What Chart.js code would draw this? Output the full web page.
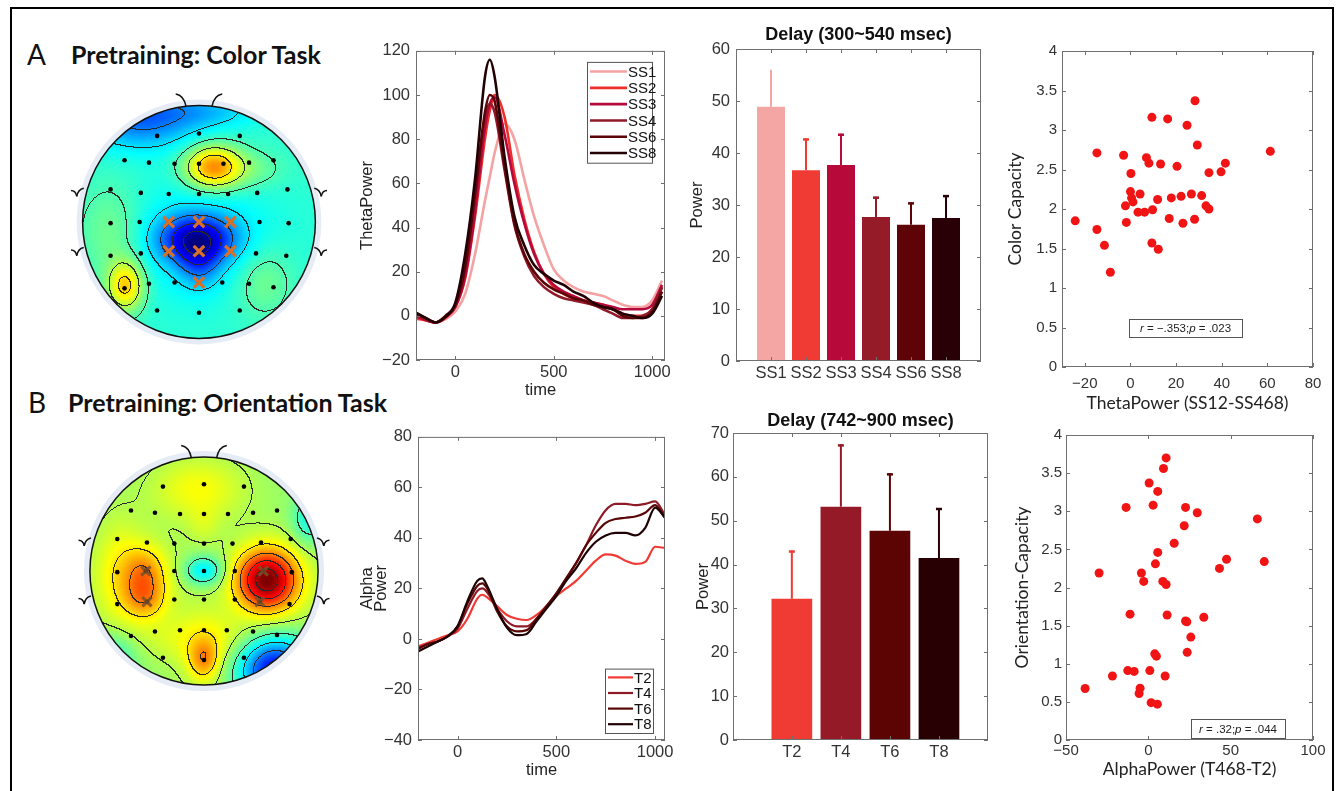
<!DOCTYPE html>
<html>
<head>
<meta charset="utf-8">
<title>Pretraining: theta and alpha power</title>
<script src="https://cdn.jsdelivr.net/npm/chart.js@4.4.1/dist/chart.umd.min.js"></script>
<style>
  html, body { margin: 0; padding: 0; background: #fff; }
  body { width: 1338px; height: 791px; position: relative; overflow: hidden; }
  #frame { position: absolute; left: 10px; top: 7px; width: 1320px; height: 800px; border: 2px solid #000; }
  .letter { position: absolute; font-family: Lato, sans-serif; font-size: 28px; color: #111; line-height: 1; }
  .heading { position: absolute; font-family: Lato, sans-serif; font-weight: bold; font-size: 25px; color: #111; line-height: 1; white-space: nowrap; }
  canvas { position: absolute; }
</style>
</head>
<body>
<div id="frame"></div>
<div class="letter" style="left:27px;top:40px">A</div>
<div class="heading" style="left:71px;top:42px">Pretraining: Color Task</div>
<div class="letter" style="left:28px;top:388px">B</div>
<div class="heading" style="left:68px;top:390px">Pretraining: Orientation Task</div>

<canvas id="topoA"></canvas>
<canvas id="thetaLine"></canvas>
<canvas id="thetaBar"></canvas>
<canvas id="colorScatter"></canvas>
<canvas id="topoB"></canvas>
<canvas id="alphaLine"></canvas>
<canvas id="alphaBar"></canvas>
<canvas id="orientScatter"></canvas>

<script>
// ---------------- data ----------------
// theta power time courses (row A)
const thetaTimes = [-200,-150,-100,-50,0,50,100,150,175,200,250,300,350,400,450,500,550,600,650,700,750,800,850,900,950,1000,1050];
const thetaSS1 = [-1.5,-2,-3,-1.5,2,10,28,52,63,74,87,80,62,45,32,21,16,13,11,10,9,7,5,4,4,7,16];
const thetaSS2 = [-1,-2,-3,-1,4,17,45,80,93,100,90,64,44,29,19,13,10,8,7,6,5,3,1,0,0,3,13];
const thetaSS3 = [0,-2,-3,-0.5,4,18,47,85,96,99,82,60,42,28,19,14,11,9,7,6,5,4,3,3,3,5,14];
const thetaSS4 = [1,-1.5,-3,0,5,22,55,90,96,92,66,41,27,18,13,10,8,7,6,5,3,1,-1,-1,0,3,13];
const thetaSS6 = [1,-1,-3,0,5,22,55,92,100,97,68,42,28,20,15,12,10,8,7,5,4,3,0,-1,-1,2,11];
const thetaSS8 = [1.5,-1,-3,-0.5,6,28,62,108,116,108,72,45,32,23,19,16,14,11,9,6,4,3,1,0,-1,1,9];

// alpha power time courses (row B)
const alphaTimes = [-200,-150,-100,-50,0,50,100,125,150,200,250,300,350,400,450,500,550,600,650,700,750,800,850,900,950,1000,1050];
const alphaT2 = [-3,-1.5,0,1.5,3,8,16,17.5,16.5,13,9.5,8,7.5,9.5,13,17,20,23,27,31,33.5,33,31,29.7,30.5,36.5,36];
const alphaT4 = [-3.5,-2,-1,1,4,12,19,20,18.5,12,7,5,5,8,12.5,18,24,30,37,45,51,53.5,53.5,53,53.5,54.5,49];
const alphaT6 = [-4,-2,-1,1,5,14,21,22,20,11,5,3,3.5,8,13,18,24,30,37,42,46,47.5,48,48.5,50,53,48];
const alphaT8 = [-5,-3,-1,1,5,15,23,24,21,12,4.5,1.5,2,7,12,17,23,28,34,38.5,41,42,42,41,44,52,48];

// delay-period bars
const delayA_labels = ['SS1','SS2','SS3','SS4','SS6','SS8'];
const delayA_means  = [48.9, 36.7, 37.7, 27.7, 26.2, 27.5];
const delayA_errs   = [7.1, 6.1, 6.0, 3.9, 4.3, 4.4];
const delayB_labels = ['T2','T4','T6','T8'];
const delayB_means  = [32.2, 53.2, 47.7, 41.5];
const delayB_errs   = [11.0, 14.2, 13.1, 11.4];

// correlations
const colorThetaX = [-24.2,-14.7,-14.7,-11.4,-8.8,-3.0,-2.2,-1.8,0.2,0.0,0.5,1.1,4.2,3.3,6.2,7.0,8.1,9.4,9.7,9.4,11.9,12.2,13.2,16.3,17.0,17.9,20.4,22.2,23.0,24.8,26.7,28.1,28.3,29.3,31.2,33.1,34.4,34.4,39.7,41.6,61.3];
const colorCapY   = [1.85,2.71,1.74,1.54,1.20,2.68,2.04,1.83,2.45,2.22,2.14,2.09,2.19,1.96,1.96,2.65,2.58,3.16,1.99,1.57,2.12,1.49,2.57,3.14,1.88,2.14,2.54,2.16,1.82,3.06,2.19,1.87,3.37,2.81,2.17,2.04,2.00,2.46,2.47,2.58,2.73];
const orientAlphaX = [-38.4,-29.9,-21.8,-13.5,-11.1,-12.5,-8.6,-5.6,-5.0,-4.2,-2.8,0.5,0.9,1.7,2.9,4.3,3.9,4.9,5.7,5.7,5.5,9.2,10.8,8.8,10.8,11.4,10.2,15.7,21.8,22.6,22.6,23.4,23.6,25.8,29.7,33.7,43.2,47.5,66.2,70.4];
const orientCapY   = [0.675,2.19,0.84,3.05,1.65,0.91,0.90,0.61,0.68,2.19,2.08,3.37,0.91,0.49,3.08,2.31,1.13,1.10,2.46,3.26,0.47,3.56,3.70,2.08,2.04,1.64,0.84,2.58,2.81,3.05,1.56,1.55,1.15,1.35,2.98,1.61,2.25,2.37,2.90,2.34];

// scalp electrode layout (head radius = 1, v grows toward the back)
const elecU = [-0.36,0,0.35, -0.64,-0.43,-0.21,0,0.21,0.43,0.64, -0.76,-0.5,-0.26,0,0.25,0.5,0.76, -0.76,-0.51,-0.26,0,0.27,0.52,0.77, -0.76,-0.5,-0.26,0,0.27,0.49,0.75, -0.64,-0.43,-0.21,0,0.2,0.43,0.64, -0.36,0,0.35];
const elecV = [-0.74,-0.76,-0.74, -0.53,-0.51,-0.5,-0.5,-0.5,-0.51,-0.53, -0.28,-0.25,-0.24,-0.24,-0.24,-0.25,-0.28, 0.01,0,0,0,0,0,0.01, 0.29,0.27,0.25,0.25,0.25,0.27,0.29, 0.57,0.53,0.52,0.52,0.52,0.53,0.56, 0.76,0.78,0.76];
const roiA_U = [-0.26,0,0.27,-0.26,0,0.27,0];
const roiA_V = [0,0,0,0.25,0.25,0.25,0.52];
const roiB_U = [-0.51,0.52,-0.5,0.49];
const roiB_V = [0,0,0.27,0.27];

// topography sources (colour index 0..1 on the jet scale)
const topoA_base = 0.42;
const topoA_u   = [0.12,-0.63,-0.02,0.0,0.0,-0.5,0.55,-0.75,0.45,0.1];
const topoA_v   = [-0.47,0.55,0.15,0.35,0.15,-0.9,0.5,0.1,-0.45,-0.95];
const topoA_amp = [0.32,0.25,-0.30,-0.12,-0.08,-0.20,0.08,0.08,0.06,-0.08];
const topoA_su  = [0.17,0.11,0.22,0.12,0.45,0.35,0.18,0.2,0.2,0.3];
const topoA_sv  = [0.13,0.15,0.14,0.15,0.35,0.18,0.22,0.3,0.12,0.1];
const topoB_base = 0.52;
const topoB_u   = [0.55,-0.52,-0.52,0.0,-0.05,0.0,0.62,-0.8,0.92,0.0,-0.75,0.0,-0.6,0.6,0.0];
const topoB_v   = [0.08,0.0,0.24,0.0,-0.72,0.78,0.85,0.75,-0.45,0.6,-0.05,-0.4,0.1,0.1,0.7];
const topoB_amp = [0.42,0.14,0.14,-0.18,0.1,0.15,-0.4,-0.12,-0.13,0.06,0.06,0.04,0.07,0.07,0.06];
const topoB_su  = [0.18,0.13,0.13,0.12,0.3,0.09,0.22,0.15,0.1,0.5,0.15,0.1,0.3,0.3,0.18];
const topoB_sv  = [0.18,0.15,0.13,0.09,0.2,0.12,0.2,0.15,0.15,0.15,0.35,0.12,0.3,0.3,0.3];

// ---------------- defaults ----------------
Chart.defaults.font.family = "'Liberation Sans', Arial, sans-serif";
Chart.defaults.font.size = 16.5;
Chart.defaults.color = '#333';
Chart.defaults.animation = false;
Chart.defaults.plugins.legend.display = false;
Chart.defaults.plugins.tooltip.enabled = false;

const minus = v => String(v).replace('-', '\u2212');

function place(id, area, pad) {
  const c = document.getElementById(id);
  const w = Math.round(area.r - area.l + pad.l + pad.r);
  const h = Math.round(area.b - area.t + pad.t + pad.b);
  c.width = w; c.height = h;
  c.style.left = Math.round(area.l - pad.l) + 'px';
  c.style.top = Math.round(area.t - pad.t) + 'px';
  c.style.width = w + 'px'; c.style.height = h + 'px';
  return c;
}

// MATLAB-like box with inward ticks
const matlabBox = {
  id: 'matlabBox',
  afterDraw(chart) {
    const { ctx, chartArea: a, scales } = chart;
    ctx.save();
    ctx.strokeStyle = '#707070';
    ctx.lineWidth = 1;
    ctx.strokeRect(a.left + 0.5, a.top + 0.5, a.width - 1, a.height - 1);
    ctx.beginPath();
    scales.x.ticks.forEach(t => {
      const px = Math.round(scales.x.getPixelForValue(t.value)) + 0.5;
      ctx.moveTo(px, a.bottom); ctx.lineTo(px, a.bottom - 4);
      ctx.moveTo(px, a.top); ctx.lineTo(px, a.top + 4);
    });
    scales.y.ticks.forEach(t => {
      const py = Math.round(scales.y.getPixelForValue(t.value)) + 0.5;
      ctx.moveTo(a.left, py); ctx.lineTo(a.left + 4, py);
      ctx.moveTo(a.right, py); ctx.lineTo(a.right - 4, py);
    });
    ctx.stroke();
    ctx.restore();
  }
};

// legend drawn inside the plot box
const insideLegend = {
  id: 'insideLegend',
  afterDraw(chart, args, o) {
    if (!o || !o.row) return;
    const { ctx, chartArea: a } = chart;
    const items = chart.data.datasets;
    const h = items.length * o.row + o.pad * 2;
    const left = a.right - o.right - o.width;
    const top = o.top != null ? a.top + o.top : a.bottom - o.bottom - h;
    ctx.save();
    ctx.fillStyle = '#fff';
    ctx.fillRect(left, top, o.width, h);
    ctx.strokeStyle = '#555';
    ctx.lineWidth = 1;
    ctx.strokeRect(left + 0.5, top + 0.5, o.width, h);
    ctx.font = "15px 'Liberation Sans', Arial";
    ctx.textBaseline = 'middle';
    items.forEach((d, i) => {
      const y = top + o.pad + o.row * (i + 0.5);
      ctx.strokeStyle = d.borderColor;
      ctx.lineWidth = d.borderWidth;
      ctx.beginPath();
      ctx.moveTo(left + o.x0, y); ctx.lineTo(left + o.x1, y);
      ctx.stroke();
      ctx.fillStyle = '#111';
      ctx.fillText(d.label, left + o.x1 + 1, y + 1);
    });
    ctx.restore();
  }
};

// upper error bars
const errorBars = {
  id: 'errorBars',
  afterDatasetsDraw(chart, args, o) {
    if (!o || !o.err) return;
    const { ctx } = chart;
    const ys = chart.scales.y;
    const ds = chart.data.datasets[0];
    chart.getDatasetMeta(0).data.forEach((bar, i) => {
      const top = ys.getPixelForValue(ds.data[i].y + o.err[i]);
      const col = o.colors[i];
      ctx.save();
      ctx.strokeStyle = col;
      ctx.lineWidth = 2;
      ctx.beginPath();
      ctx.moveTo(bar.x, bar.y); ctx.lineTo(bar.x, top);
      ctx.stroke();
      if (o.cap[i]) {
        ctx.lineWidth = 2.5;
        ctx.beginPath();
        ctx.moveTo(bar.x - 3, top + 1); ctx.lineTo(bar.x + 3, top + 1);
        ctx.stroke();
      }
      ctx.restore();
    });
  }
};

// r / p annotation box
const statBox = {
  id: 'statBox',
  afterDraw(chart, args, o) {
    if (!o || !o.parts) return;
    const { ctx, chartArea: a } = chart;
    const x = a.left + o.left, y = a.top + o.top;
    ctx.save();
    ctx.fillStyle = '#fff';
    ctx.fillRect(x, y, o.w, o.h);
    ctx.strokeStyle = '#555';
    ctx.lineWidth = 1;
    ctx.strokeRect(x + 0.5, y + 0.5, o.w, o.h);
    const fontOf = p => (p[1] ? 'italic ' : '') + "11.5px 'Liberation Sans', Arial";
    let total = 0;
    o.parts.forEach(p => { ctx.font = fontOf(p); total += ctx.measureText(p[0]).width; });
    let cx = x + (o.w - total) / 2;
    ctx.textBaseline = 'middle';
    ctx.fillStyle = '#222';
    o.parts.forEach(p => {
      ctx.font = fontOf(p);
      ctx.fillText(p[0], cx, y + o.h / 2 + 1);
      cx += ctx.measureText(p[0]).width;
    });
    ctx.restore();
  }
};

// scalp map
function jet(t) {
  t = Math.max(0, Math.min(1, t));
  const c = k => Math.max(0, Math.min(1, 1.5 - Math.abs(4 * t - k)));
  return [c(3) * 255, c(2) * 255, c(1) * 255];
}
function fieldAt(f, u, v) {
  let s = f.base;
  for (let k = 0; k < f.u.length; k++) {
    const du = (u - f.u[k]) / f.su[k], dv = (v - f.v[k]) / f.sv[k];
    s += f.amp[k] * Math.exp(-(du * du + dv * dv) / 2);
  }
  return s;
}
const topoPlugin = {
  id: 'topo',
  beforeDatasetsDraw(chart, args, o) {
    if (!o || !o.field) return;
    const { ctx } = chart;
    const xs = chart.scales.x, ys = chart.scales.y;
    const cx = xs.getPixelForValue(0), cy = ys.getPixelForValue(0);
    const r = xs.getPixelForValue(1) - cx;
    const x0 = Math.floor(cx - r) - 2, y0 = Math.floor(cy - r) - 2;
    const W = Math.ceil(2 * r) + 5, H = W;
    const vals = new Float32Array(W * H);
    for (let j = 0; j < H; j++) {
      const v = ys.getValueForPixel(y0 + j + 0.5);
      for (let i = 0; i < W; i++) {
        vals[j * W + i] = fieldAt(o.field, xs.getValueForPixel(x0 + i + 0.5), v);
      }
    }
    const lvl = t => Math.floor((t - o.offset) / o.step);
    const img = ctx.createImageData(W, H);
    for (let j = 0; j < H; j++) {
      for (let i = 0; i < W; i++) {
        const k = j * W + i;
        const t = vals[k];
        let col = jet(t);
        const L = lvl(t);
        if ((i < W - 1 && lvl(vals[k + 1]) !== L) || (j < H - 1 && lvl(vals[k + W]) !== L)) {
          col = [40, 40, 40];
        }
        img.data[k * 4] = col[0]; img.data[k * 4 + 1] = col[1];
        img.data[k * 4 + 2] = col[2]; img.data[k * 4 + 3] = 255;
      }
    }
    const off = document.createElement('canvas');
    off.width = W; off.height = H;
    off.getContext('2d').putImageData(img, 0, 0);

    ctx.save();
    ctx.strokeStyle = 'rgba(220,228,242,0.7)';
    ctx.lineWidth = 6;
    ctx.beginPath(); ctx.arc(cx, cy, r + 3, 0, Math.PI * 2); ctx.stroke();
    ctx.beginPath(); ctx.arc(cx, cy, r, 0, Math.PI * 2); ctx.clip();
    ctx.drawImage(off, x0, y0);
    ctx.restore();

    ctx.save();
    ctx.strokeStyle = '#111';
    ctx.lineWidth = 1.5;
    ctx.beginPath(); ctx.arc(cx, cy, r, 0, Math.PI * 2); ctx.stroke();
    const P = (u, v) => [xs.getPixelForValue(u), ys.getPixelForValue(v)];
    const curve = (a, c, b) => {
      const p1 = P(a[0], a[1]), pc = P(c[0], c[1]), p2 = P(b[0], b[1]);
      ctx.beginPath(); ctx.moveTo(p1[0], p1[1]); ctx.quadraticCurveTo(pc[0], pc[1], p2[0], p2[1]); ctx.stroke();
    };
    // nose
    curve([-0.2, -1.1], [-0.13, -1.09], [-0.11, -0.99]);
    curve([0.2, -1.1], [0.13, -1.09], [0.11, -0.99]);
    // ears
    [-0.23, 0.28].forEach(v => {
      curve([-1.1, v - 0.04], [-1.06, v - 0.04], [-1.05, v + 0.01]);
      curve([-1.05, v + 0.01], [-1.04, v - 0.05], [-0.99, v - 0.06]);
      curve([1.1, v - 0.04], [1.06, v - 0.04], [1.05, v + 0.01]);
      curve([1.05, v + 0.01], [1.04, v - 0.05], [0.99, v - 0.06]);
    });
    ctx.restore();
  }
};

function topoChart(id, cx, cy, r, field, roiU, roiV, roiColor, roiSize) {
  const half = r * 1.3;
  const c = place(id, { l: cx - half, t: cy - half, r: cx + half, b: cy + half }, { l: 0, t: 0, r: 0, b: 0 });
  new Chart(c, {
    type: 'scatter',
    data: {
      datasets: [
        { data: roiU.map((u, i) => ({ x: u, y: roiV[i] })), pointStyle: 'crossRot',
          pointRadius: roiSize, borderWidth: 3.2, borderColor: roiColor },
        { data: elecU.map((u, i) => ({ x: u, y: elecV[i] })), pointRadius: 2.3,
          backgroundColor: '#000', borderWidth: 0 }
      ]
    },
    options: {
      responsive: false,
      layout: { padding: 0 },
      scales: {
        x: { display: false, min: -1.3, max: 1.3 },
        y: { display: false, min: -1.3, max: 1.3, reverse: true }
      },
      plugins: { topo: { field, step: 0.1, offset: 0.05 } }
    },
    plugins: [topoPlugin]
  });
}

// axes for the boxed panels
function boxScales(o) {
  return {
    x: {
      type: 'linear', min: o.xMin, max: o.xMax, offset: false,
      grid: { display: false, drawTicks: false }, border: { display: false },
      afterBuildTicks: s => { s.ticks = o.xTicks.map(v => ({ value: v })); },
      afterFit: s => { s.height = o.padB; },
      ticks: { autoSkip: false, maxRotation: 0, padding: o.xTickPad, color: '#333',
               font: o.tickFont, callback: o.xLabel || minus },
      title: { display: true, text: o.xTitle, color: '#222', font: o.titleFont,
               padding: { top: 0, bottom: o.xTitlePad } }
    },
    y: {
      type: 'linear', min: o.yMin, max: o.yMax,
      grid: { display: false, drawTicks: false }, border: { display: false },
      afterBuildTicks: s => { s.ticks = o.yTicks.map(v => ({ value: v })); },
      afterFit: s => { s.width = o.padL; },
      ticks: { autoSkip: false, padding: o.yTickPad, color: '#333', font: o.tickFont, callback: minus },
      title: { display: true, text: o.yTitle, color: '#222', font: o.titleFont,
               padding: { top: o.yTitlePad, bottom: 0 } }
    }
  };
}

function lineChart(id, area, pad, times, series, axes, legend) {
  const c = place(id, area, pad);
  new Chart(c, {
    type: 'line',
    data: {
      datasets: series.map((s, i) => ({
        label: s[0],
        data: times.map((t, k) => ({ x: t, y: s[1][k] })),
        borderColor: s[2], borderWidth: axes.lw, pointRadius: 0,
        cubicInterpolationMode: 'monotone', order: -i
      }))
    },
    options: {
      responsive: false,
      layout: { padding: { top: pad.t, right: pad.r, left: 0, bottom: 0 } },
      scales: boxScales(Object.assign({ padL: pad.l, padB: pad.b }, axes)),
      plugins: { insideLegend: legend }
    },
    plugins: [matlabBox, insideLegend]
  });
}

function barChart(id, area, pad, title, titlePad, labels, means, errs, colors, caps, axes) {
  const c = place(id, area, pad);
  new Chart(c, {
    type: 'bar',
    data: {
      datasets: [{
        data: means.map((m, i) => ({ x: i + 1, y: m })),
        backgroundColor: colors, borderWidth: 0,
        categoryPercentage: 1, barPercentage: axes.barPct
      }]
    },
    options: {
      responsive: false,
      layout: { padding: { top: 0, right: pad.r, left: 0, bottom: 0 } },
      scales: boxScales(Object.assign({
        padL: pad.l, padB: pad.b,
        xTicks: labels.map((l, i) => i + 1),
        xLabel: (v) => labels[v - 1] || ''
      }, axes)),
      plugins: {
        title: { display: true, text: title, color: '#111', fullSize: false,
                 font: { size: 18, weight: 'bold' }, padding: titlePad },
        errorBars: { err: errs, colors: colors, cap: caps }
      }
    },
    plugins: [matlabBox, errorBars]
  });
}

function scatterChart(id, area, pad, xs, ys, axes, stat) {
  const c = place(id, area, pad);
  new Chart(c, {
    type: 'scatter',
    data: {
      datasets: [{
        data: xs.map((x, i) => ({ x, y: ys[i] })),
        pointRadius: 4.5, backgroundColor: '#f01414', borderWidth: 0
      }]
    },
    options: {
      responsive: false,
      layout: { padding: { top: pad.t, right: pad.r, left: 0, bottom: 0 } },
      scales: boxScales(Object.assign({ padL: pad.l, padB: pad.b }, axes)),
      plugins: { statBox: stat }
    },
    plugins: [matlabBox, statBox]
  });
}

const plainTitle = { family: "'Liberation Sans', Arial", size: 16.5 };
const gillTitle = { family: 'Lato, sans-serif', size: 17.5 };
const bigTicks = { family: "'Liberation Sans', Arial", size: 16.5 };
const smallTicks = { family: "'Liberation Sans', Arial", size: 15 };

// ---------------- row A ----------------
topoChart('topoA', 198.7, 221.7, 124.7,
  { base: topoA_base, u: topoA_u, v: topoA_v, amp: topoA_amp, su: topoA_su, sv: topoA_sv },
  roiA_U, roiA_V, '#d9702a', 7.5);

lineChart('thetaLine', { l: 416, t: 47, r: 665, b: 360 }, { l: 62, t: 12, r: 20, b: 48 },
  thetaTimes,
  [['SS1', thetaSS1, '#f4a2a2'], ['SS2', thetaSS2, '#ef2f2a'], ['SS3', thetaSS3, '#b6083a'],
   ['SS4', thetaSS4, '#901a2a'], ['SS6', thetaSS6, '#5c0508'], ['SS8', thetaSS8, '#220004']],
  { xMin: -200, xMax: 1065, xTicks: [0, 500, 1000], yMin: -20, yMax: 120,
    yTicks: [-20, 0, 20, 40, 60, 80, 100, 120], xTitle: 'time', yTitle: 'ThetaPower',
    titleFont: plainTitle, tickFont: bigTicks, xTickPad: 3, yTickPad: 6, xTitlePad: 8, yTitlePad: 4, lw: 2.6 },
  { row: 16.3, pad: 1.5, width: 65, right: 13, top: 11, x0: 3, x1: 40 });

barChart('thetaBar', { l: 736, t: 49, r: 981, b: 361 }, { l: 50, t: 30, r: 20, b: 40 },
  'Delay (300~540 msec)', { top: 5, bottom: 3.4 }, delayA_labels, delayA_means, delayA_errs,
  ['#f4a6a4', '#f03b34', '#b80a3a', '#961b28', '#5e0306', '#280005'],
  [false, true, true, true, true, true],
  { xMin: 0, xMax: 7, yMin: 0, yMax: 60, yTicks: [0, 10, 20, 30, 40, 50, 60],
    xTitle: '', yTitle: 'Power', titleFont: plainTitle, tickFont: bigTicks, barPct: 0.8,
    xTickPad: 3, yTickPad: 6, xTitlePad: 0, yTitlePad: 2 });

scatterChart('colorScatter', { l: 1062, t: 49, r: 1313, b: 367 }, { l: 59, t: 12, r: 20, b: 48 },
  colorThetaX, colorCapY,
  { xMin: -30, xMax: 80, xTicks: [-20, 0, 20, 40, 60, 80], yMin: 0, yMax: 4,
    yTicks: [0, 0.5, 1, 1.5, 2, 2.5, 3, 3.5, 4], xTitle: 'ThetaPower (SS12-SS468)',
    yTitle: 'Color Capacity', titleFont: gillTitle, tickFont: smallTicks,
    xTickPad: 8, yTickPad: 5, xTitlePad: 1.5, yTitlePad: 1.5 },
  { left: 67, top: 268, w: 113, h: 18,
    parts: [['r', true], [' = \u2212.353;', false], ['p', true], [' = .023', false]] });

// ---------------- row B ----------------
topoChart('topoB', 203.8, 570.8, 121.5,
  { base: topoB_base, u: topoB_u, v: topoB_v, amp: topoB_amp, su: topoB_su, sv: topoB_sv },
  roiB_U, roiB_V, 'rgba(125,80,40,0.85)', 6.5);

lineChart('alphaLine', { l: 418, t: 433, r: 665, b: 740 }, { l: 62, t: 12, r: 20, b: 45 },
  alphaTimes,
  [['T2', alphaT2, '#f03a34'], ['T4', alphaT4, '#8e1a28'], ['T6', alphaT6, '#580606'], ['T8', alphaT8, '#1e0204']],
  { xMin: -200, xMax: 1050, xTicks: [0, 500, 1000], yMin: -40, yMax: 80,
    yTicks: [-40, -20, 0, 20, 40, 60, 80], xTitle: 'time', yTitle: ['Alpha', 'Power'],
    titleFont: { family: "'Liberation Sans', Arial", size: 16.5, lineHeight: 0.85 }, tickFont: bigTicks,
    xTickPad: 3, yTickPad: 6, xTitlePad: 8, yTitlePad: 4, lw: 2.2 },
  { row: 15.6, pad: 1, width: 48, right: 12, bottom: 7, x0: 3, x1: 28 });

barChart('alphaBar', { l: 733, t: 433, r: 988, b: 740 }, { l: 40, t: 30, r: 20, b: 40 },
  'Delay (742~900 msec)', { top: 7, bottom: 1.4 }, delayB_labels, delayB_means, delayB_errs,
  ['#f03a34', '#941a28', '#5c0304', '#280004'],
  [true, true, true, true],
  { xMin: -0.2, xMax: 5, yMin: 0, yMax: 70, yTicks: [0, 10, 20, 30, 40, 50, 60, 70],
    xTitle: '', yTitle: 'Power', titleFont: plainTitle, tickFont: bigTicks, barPct: 0.83,
    xTickPad: 3, yTickPad: 4, xTitlePad: 0, yTitlePad: 1 });

scatterChart('orientScatter', { l: 1066, t: 434, r: 1313, b: 740 }, { l: 56, t: 12, r: 20, b: 45 },
  orientAlphaX, orientCapY,
  { xMin: -50, xMax: 100, xTicks: [-50, 0, 50, 100], yMin: 0, yMax: 4,
    yTicks: [0, 0.5, 1, 1.5, 2, 2.5, 3, 3.5, 4], xTitle: 'AlphaPower (T468-T2)',
    yTitle: 'Orientation-Capacity', titleFont: gillTitle, tickFont: smallTicks,
    xTickPad: 2, yTickPad: 4, xTitlePad: 5.5, yTitlePad: 1.5 },
  { left: 125, top: 284, w: 94, h: 19,
    parts: [['r', true], [' = .32;', false], ['p', true], [' = .044', false]] });
</script>
</body>
</html>
